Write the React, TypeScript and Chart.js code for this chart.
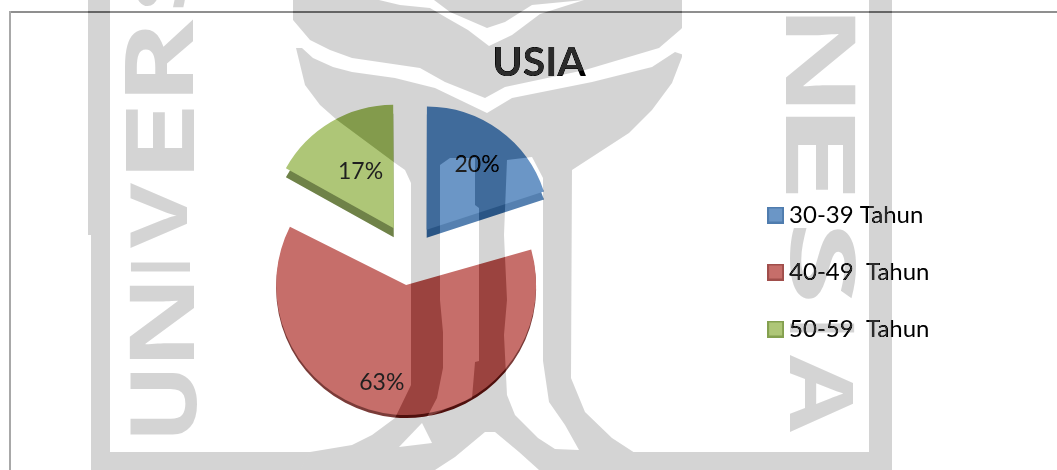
import React, { useEffect, useRef } from "react";
import { Chart, registerables } from "chart.js";

Chart.register(...registerables);

const titleText = "USIA";
const categories = ["30-39 Tahun", "40-49  Tahun", "50-59  Tahun"];
const values = [20, 63, 17];
const faceColors = ["#6b96c6", "#c66e6a", "#aec677"];
const rimColors = ["#5580b0", "#7a3b38", "#6f8248"];
const edgeColors = ["#4f7cae", "#a04e4b", "#84a04f"];

const FONT = "Lato";
const W = 1057;
const H = 470;

type Pt = [number, number];
const poly = (c: CanvasRenderingContext2D, pts: Pt[]) => {
  c.beginPath();
  pts.forEach(([x, y], i) => (i ? c.lineTo(x, y) : c.moveTo(x, y)));
  c.closePath();
  c.fill();
};

// the page's scanned watermark: decoration behind and over the chart, not data
const buildWatermark = () => {
  const cv = document.createElement("canvas");
  cv.width = W;
  cv.height = H;
  const c = cv.getContext("2d")!;
  const ink = "#2b2b2b";
  c.fillStyle = "#000";
  c.fillRect(0, 0, W, H);
  c.fillStyle = ink;
  c.fillRect(88, 0, 22, 235);
  c.fillRect(91, 235, 19, 235);
  c.fillRect(869, 0, 23, 470);
  c.fillRect(91, 452, 801, 18);
  poly(c, [
    [293, 0], [682, 0], [682, 57], [672, 83], [652, 110], [629, 133], [572, 170],
    [571, 378], [585, 412], [612, 438], [635, 453], [635, 470], [300, 470], [310, 452],
    [352, 445], [372, 435], [395, 418], [411, 385], [411, 183], [405, 170], [395, 163],
    [337, 120], [320, 105], [305, 85], [296, 48], [293, 20],
  ]);
  c.fillStyle = "#000";
  // white bands and windows in the logo
  poly(c, [
    [285, 20], [293, 20], [310, 40], [330, 50], [352, 58], [420, 68], [445, 82], [485, 98],
    [505, 87], [585, 70], [659, 48], [680, 30], [690, 20], [690, 57], [675, 52], [652, 67],
    [592, 82], [512, 98], [487, 113], [435, 88], [395, 78], [352, 72], [333, 67], [313, 58],
    [302, 48], [285, 48],
  ]);
  poly(c, [
    [379, 0], [434, 0], [450, 12], [487, 28], [505, 22], [532, 5], [584, 0], [540, 14],
    [512, 35], [489, 46], [468, 30], [447, 18], [430, 8], [400, 5],
  ]);
  poly(c, [
    [440, 165], [450, 158], [475, 158], [475, 205], [479, 208], [479, 361], [475, 362],
    [472, 398], [427, 417], [437, 398], [443, 368], [443, 332], [440, 300],
  ]);
  poly(c, [[399, 447], [422, 423], [432, 443]]);
  poly(c, [
    [435, 470], [455, 457], [485, 432], [495, 432], [519, 452], [539, 470],
  ]);
  poly(c, [
    [507, 160], [532, 157], [543, 178], [543, 361], [549, 402], [565, 425], [579, 450],
    [555, 449], [538, 438], [515, 415], [507, 395], [504, 335], [507, 300], [504, 235],
  ]);
  c.fillStyle = ink;
  c.font = '700 100px "Open Sans"';
  c.textAlign = "left";
  c.textBaseline = "alphabetic";
  const glyph = (ch: string, x0: number, x1: number, y0: number, y1: number, dir: number) => {
    const m = c.measureText(ch);
    const gw = m.actualBoundingBoxRight + m.actualBoundingBoxLeft;
    const gh = m.actualBoundingBoxAscent + m.actualBoundingBoxDescent;
    c.save();
    c.translate((x0 + x1) / 2, (y0 + y1) / 2);
    c.rotate((dir * Math.PI) / 2);
    c.scale((y1 - y0) / gw, (x1 - x0) / gh);
    c.fillText(
      ch,
      -gw / 2 + m.actualBoundingBoxLeft,
      gh / 2 - m.actualBoundingBoxDescent
    );
    c.restore();
  };
  glyph("U", 130, 197, 372, 435, -1);
  glyph("N", 130, 194, 285, 360, -1);
  glyph("I", 130, 190, 262, 272, -1);
  glyph("V", 130, 187, 183, 248, -1);
  glyph("E", 126, 194, 108, 172, -1);
  glyph("R", 123, 193, 18, 95, -1);
  glyph("S", 133, 187, -60, 8, -1);
  glyph("N", 786, 856, 15, 105, 1);
  glyph("E", 786, 856, 115, 195, 1);
  glyph("S", 790, 856, 227, 300, 1);
  glyph("I", 790, 855, 323, 333, 1);
  glyph("A", 790, 853, 355, 432, 1);
  return cv;
};

const legendSwatch = (fill: string, edge: string) => {
  const cv = document.createElement("canvas");
  cv.width = 17;
  cv.height = 17;
  const c = cv.getContext("2d")!;
  c.fillStyle = fill;
  c.fillRect(1, 1, 15, 15);
  c.strokeStyle = edge;
  c.lineWidth = 2;
  c.strokeRect(1, 1, 15, 15);
  return cv;
};

const radiusFactors = [0.975, 0.792, 0.958];
const rimDepth = [8, 3, 9];
const labelFractions = [0.68, 0.78, 0.54];
const labelTurn = [0.03, 0.15, 0];

let watermark: HTMLCanvasElement | null = null;

const pagePlugin = {
  id: "page",
  beforeDraw(chart: any) {
    const c = chart.ctx;
    c.save();
    c.fillStyle = "#fff";
    c.fillRect(0, 0, W, H);
    c.fillStyle = "#8f8f8f";
    c.fillRect(9, 11, W - 9, 2);
    c.fillStyle = "#a8a8a8";
    c.fillRect(9, 11, 2, H - 11);
    c.restore();
  },
  afterLayout(chart: any) {
    chart.titleBlock.left = 439;
    chart.titleBlock.right = 639;
  },
  afterDatasetsUpdate(chart: any) {
    chart.getDatasetMeta(0).data.forEach((el: any, i: number) => {
      el.outerRadius = el.outerRadius * radiusFactors[i];
    });
  },
  beforeDatasetsDraw(chart: any) {
    const c = chart.ctx;
    chart.getDatasetMeta(0).data.forEach((el: any, i: number) => {
      const saved = el.options;
      el.options = { ...saved, backgroundColor: rimColors[i], borderWidth: 0 };
      c.save();
      c.translate(0, rimDepth[i]);
      el.draw(c);
      c.restore();
      el.options = saved;
    });
  },
  afterDatasetsDraw(chart: any) {
    const c = chart.ctx;
    const total = values.reduce((a, b) => a + b, 0);
    c.save();
    c.font = `23px ${FONT}`;
    c.fillStyle = "#1f1f1f";
    c.textAlign = "center";
    c.textBaseline = "middle";
    chart.getDatasetMeta(0).data.forEach((el: any, i: number) => {
      const mid = (el.startAngle + el.endAngle) / 2;
      const shift = el.options.offset / 4;
      const r = [121, 129, 121][i] * labelFractions[i];
      const a = mid + labelTurn[i];
      const x = el.x + Math.cos(mid) * shift + Math.cos(a) * r;
      const y = el.y + Math.sin(mid) * shift + Math.sin(a) * r;
      c.fillText(`${Math.round((values[i] / total) * 100)}%`, x, y);
    });
    c.restore();
  },
  afterDraw(chart: any) {
    if (!watermark) watermark = buildWatermark();
    const c = chart.ctx;
    c.save();
    c.globalCompositeOperation = "difference";
    c.drawImage(watermark, 0, 0);
    c.restore();
  },
};

export default function App() {
  const ref = useRef<HTMLCanvasElement>(null);
  useEffect(() => {
    const swatches = faceColors.map((f, i) => legendSwatch(f, edgeColors[i]));
    const chart: any = new Chart(ref.current!, {
      type: "pie",
      data: {
        labels: categories,
        datasets: [
          {
            data: values,
            backgroundColor: faceColors,
            borderWidth: 0,
            offset: [120, 124, 120],
            clip: false,
          } as any,
        ],
      },
      options: {
        animation: false,
        responsive: false,
        events: [],
        radius: 125,
        layout: { padding: { left: 77, right: 117.5, top: 38, bottom: 96 } },
        plugins: {
          tooltip: { enabled: false },
          title: {
            display: true,
            text: titleText,
            color: "#000",
            font: { family: FONT, size: 41, weight: "bold" },
            padding: { top: 0, bottom: 47 },
          },
          legend: {
            position: "right",
            align: "end",
            labels: {
              usePointStyle: true,
              pointStyleWidth: 3,
              boxHeight: 15,
              padding: 33,
              color: "#1a1a1a",
              font: { family: FONT, size: 24 },
              generateLabels: () =>
                categories.map((text, i) => ({
                  text,
                  fillStyle: faceColors[i],
                  strokeStyle: edgeColors[i],
                  lineWidth: 0,
                  pointStyle: swatches[i],
                  hidden: false,
                  index: i,
                  datasetIndex: 0,
                })),
            },
          },
        },
      } as any,
      plugins: [pagePlugin],
    });
    return () => chart.destroy();
  }, []);
  return (
    <div style={{ position: "absolute", left: 0, top: 0, width: W, height: H, overflow: "hidden" }}>
      <canvas ref={ref} width={W} height={H} style={{ display: "block" }} />
    </div>
  );
}
